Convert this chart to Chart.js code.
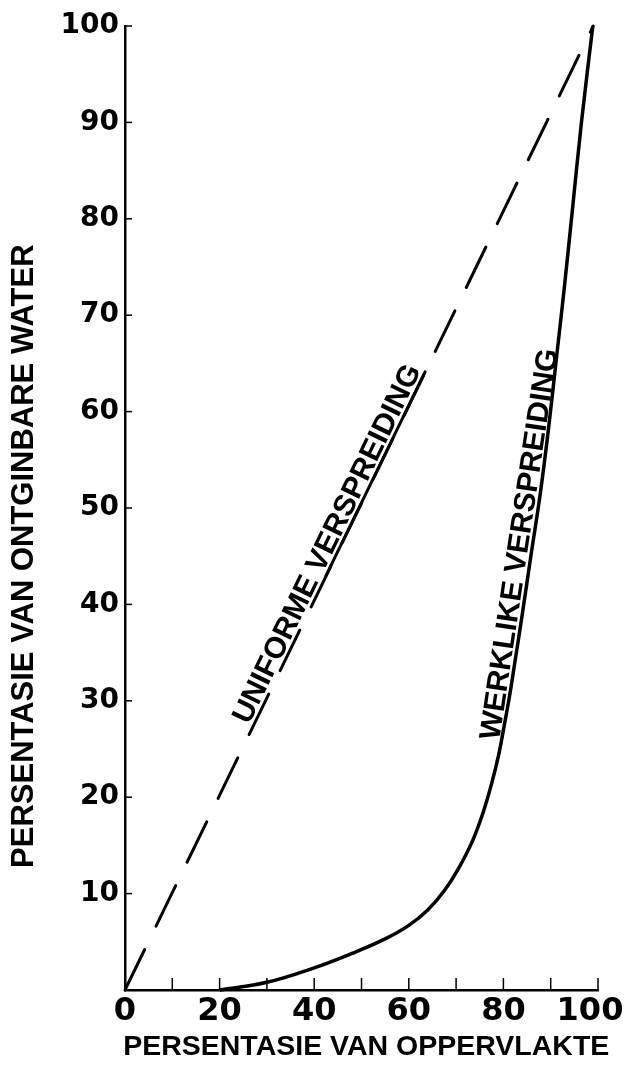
<!DOCTYPE html>
<html>
<head>
<meta charset="utf-8">
<script src="https://cdn.jsdelivr.net/npm/chart.js@4.4.0/dist/chart.umd.min.js"></script>
<style>
  html, body { margin: 0; padding: 0; background: #fff; }
</style>
</head>
<body>
<canvas id="chart" width="624" height="1071"></canvas>
<script>
// werklike verspreiding
const actualX = [20, 30, 40, 48, 55, 60, 64, 67.5, 70.5, 73.5, 75.7, 77.5, 79.0, 80.2, 81.3, 82.3, 84.0, 85.8, 87.8, 89.6, 91.2, 92.8, 94.5, 96.5, 98.9];
const actualY = [0, 0.8, 2.3, 3.8, 5.3, 6.7, 8.3, 10.3, 12.6, 15.5, 18.4, 21.4, 24.4, 27.5, 30.5, 33.6, 39.0, 45.0, 51.5, 58.5, 65.5, 72.5, 80.5, 90.0, 100];

// uniforme verspreiding
const uniformX = [0, 99];
const uniformY = [0, 100];

const xLabels = [0, 20, 40, 60, 80, 100];
const yLabels = [10, 20, 30, 40, 50, 60, 70, 80, 90, 100];

const xTitle = "PERSENTASIE VAN OPPERVLAKTE";
const yTitle = "PERSENTASIE VAN ONTGINBARE WATER";

// text written along the curves; anchor in data units (middle of the baseline side)
// angle null = follow the dashed line; underline flags per word
const curveNotes = [
  { words: ["UNIFORME", "VERSPREIDING"], x: 45.2, y: 45.7, angle: null, lift: 4, underline: [false, true] },
  { words: ["WERKLIKE", "VERSPREIDING"], x: 85.5, y: 46.1, angle: -81.5, lift: 1, underline: [false, false] },
];

const toPoints = (xs, ys) => xs.map((x, i) => ({ x: x, y: ys[i] }));

const letterFont = "bold 30px 'Liberation Sans', Arial, sans-serif";
const yTitleFont = "bold 31px 'Liberation Sans', Arial, sans-serif";
const xTitleFont = "bold 28.5px 'Liberation Sans', Arial, sans-serif";

const inkPlugin = {
  id: "ink",
  beforeDraw(chart) {
    const ctx = chart.ctx;
    ctx.save();
    ctx.fillStyle = "#fff";
    ctx.fillRect(0, 0, chart.width, chart.height);
    ctx.restore();
  },
  afterDraw(chart) {
    const ctx = chart.ctx;
    const xs = chart.scales.x;
    const ys = chart.scales.y;
    const area = chart.chartArea;
    ctx.save();
    ctx.strokeStyle = "#000";
    ctx.fillStyle = "#000";

    // tick marks pointing into the plot
    ctx.lineWidth = 1.5;
    xs.ticks.forEach((t) => {
      if (t.value === 0) return;
      const px = xs.getPixelForValue(t.value);
      ctx.beginPath();
      ctx.moveTo(px, area.bottom);
      ctx.lineTo(px, area.bottom - 12);
      ctx.stroke();
    });
    ys.ticks.forEach((t) => {
      if (t.value === 0) return;
      const py = ys.getPixelForValue(t.value);
      ctx.beginPath();
      ctx.moveTo(area.left, py);
      ctx.lineTo(area.left + 7, py);
      ctx.stroke();
    });

    // axis titles (drawn here so they are not squeezed to the scale width)
    ctx.textAlign = "center";
    ctx.textBaseline = "middle";
    ctx.font = xTitleFont;
    ctx.fillText(xTitle, xs.getPixelForValue(51), 1047);
    ctx.font = yTitleFont;
    ctx.save();
    ctx.translate(24, ys.getPixelForValue(45));
    ctx.rotate(-Math.PI / 2);
    ctx.fillText(yTitle, 0, 0);
    ctx.restore();

    // direction of the dashed line on screen
    const dx = xs.getPixelForValue(uniformX[1]) - xs.getPixelForValue(uniformX[0]);
    const dy = ys.getPixelForValue(uniformY[1]) - ys.getPixelForValue(uniformY[0]);
    const lineAngle = Math.atan2(dy, dx);

    curveNotes.forEach((n) => {
      const text = n.words.join(" ");
      const ang = n.angle === null ? lineAngle : (n.angle * Math.PI) / 180;
      ctx.save();
      ctx.translate(xs.getPixelForValue(n.x), ys.getPixelForValue(n.y));
      ctx.rotate(ang);
      ctx.font = letterFont;
      ctx.textAlign = "left";
      ctx.textBaseline = "alphabetic";
      const total = ctx.measureText(text).width;
      const space = ctx.measureText(" ").width;
      let cx = -total / 2;
      ctx.lineWidth = 3;
      ctx.lineCap = "round";
      n.words.forEach((w, i) => {
        const ww = ctx.measureText(w).width;
        ctx.fillText(w, cx, -n.lift);
        if (n.underline[i]) {
          ctx.beginPath();
          ctx.moveTo(cx, 0);
          ctx.lineTo(cx + ww, 0);
          ctx.stroke();
        }
        cx += ww + space;
      });
      ctx.restore();
    });
    ctx.restore();
  },
};

new Chart(document.getElementById("chart").getContext("2d"), {
  type: "line",
  data: {
    datasets: [
      {
        label: "Uniforme verspreiding",
        data: toPoints(uniformX, uniformY),
        borderColor: "#000",
        borderWidth: 3,
        borderDash: [45, 26],
        borderCapStyle: "round",
        pointRadius: 0,
        fill: false,
        clip: false,
      },
      {
        label: "Werklike verspreiding",
        data: toPoints(actualX, actualY),
        borderColor: "#000",
        borderWidth: 3.5,
        tension: 0.4,
        pointRadius: 0,
        fill: false,
        clip: false,
      },
    ],
  },
  options: {
    responsive: false,
    animation: false,
    devicePixelRatio: 1,
    layout: { padding: { top: 26, right: 26, left: 0, bottom: 0 } },
    plugins: {
      legend: { display: false },
      tooltip: { enabled: false },
    },
    scales: {
      x: {
        type: "linear",
        min: 0,
        max: 100,
        grid: { display: false, drawTicks: false },
        border: { display: true, color: "#000", width: 2.5 },
        ticks: {
          stepSize: 10,
          color: "#000",
          padding: 2,
          maxRotation: 0,
          autoSkip: false,
          font: { family: "'DejaVu Sans', sans-serif", weight: "bold", size: 32 },
          // last label is pushed left a little so it stays on the page
          callback: (v) => (xLabels.includes(v) ? (v === 100 ? v + "\u2002" : String(v)) : ""),
        },
        afterFit(scale) {
          scale.height = 81;
          scale.paddingLeft = 0;
          scale.paddingRight = 0;
        },
      },
      y: {
        type: "linear",
        min: 0,
        max: 100,
        grid: { display: false, drawTicks: false },
        border: { display: true, color: "#000", width: 2.5 },
        ticks: {
          stepSize: 10,
          color: "#000",
          padding: 6,
          autoSkip: false,
          font: { family: "'DejaVu Sans', sans-serif", weight: "bold", size: 28 },
          callback: (v) => (yLabels.includes(v) ? String(v) : ""),
        },
        afterFit(scale) {
          scale.width = 125;
        },
      },
    },
  },
  plugins: [inkPlugin],
});
</script>
</body>
</html>
